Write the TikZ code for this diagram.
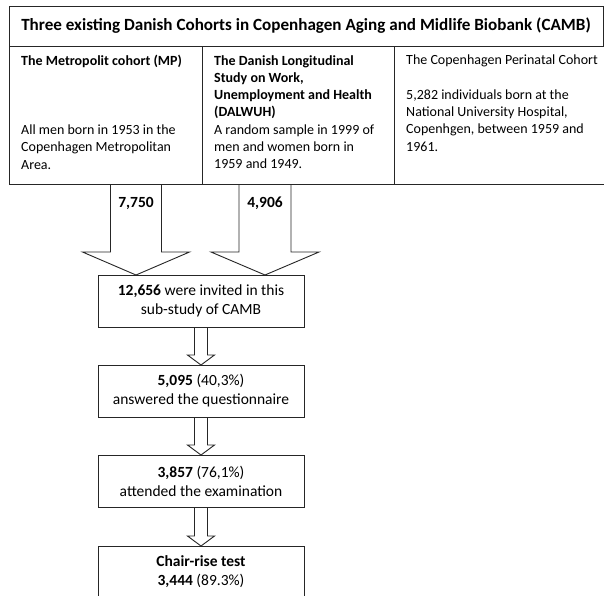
\documentclass[tikz,border=0pt]{standalone}
\usepackage{fontspec}
\setmainfont{Carlito}
\usetikzlibrary{positioning,calc}

\newcommand\titlefont{\fontsize{17.1}{20}\selectfont\bfseries}
\newcommand\cohortfont{\fontsize{14}{17.25}\selectfont}
\newcommand\flowfont{\fontsize{15.5}{19}\selectfont}

% hollow block arrow: from, to, shaft half width, head half width, head length
\newcommand\blockarrow[5]{%
  \draw[hollow] ($(#1)+(-#3,0)$) -- ($(#2)+(-#3,-#5)$) -- ($(#2)+(-#4,-#5)$)
    -- (#2) -- ($(#2)+(#4,-#5)$) -- ($(#2)+(#3,-#5)$) -- ($(#1)+(#3,0)$);}

\begin{document}
\begin{tikzpicture}[
  x=1pt, y=-1pt,
  cell/.style = {
    draw=black!85,
    line width=0.9pt,
    shape=rectangle,
    inner sep=0pt,
    outer sep=0pt,
    minimum height=138
  },
  celltext/.style = {
    inner sep=0pt,
    align=left,
    font=\cohortfont
  },
  flowbox/.style = {
    draw=black!85,
    line width=0.9pt,
    shape=rectangle,
    outer sep=0pt,
    minimum width=206,
    minimum height=52,
    align=center,
    font=\flowfont
  },
  count/.style = {
    inner sep=0pt,
    font=\flowfont\bfseries
  },
  hollow/.style = {
    draw=black!85,
    line width=0.9pt,
    line join=miter
  },
]
  \useasboundingbox[fill=white] (0,0) rectangle (604,595);

  % cohort table
  \node (title)[
    cell,
    minimum width=594,
    minimum height=40,
    anchor=north west,
    font=\titlefont
  ] at (9,6) {Three existing Danish Cohorts in Copenhagen Aging and Midlife Biobank (CAMB)};
  \node (mp)[
    cell,
    minimum width=193,
    anchor=north west
  ] at (title.south west) {};
  \node (dalwuh)[
    cell,
    minimum width=192,
    anchor=north west
  ] at (mp.north east) {};
  \node (perinatal)[
    cell,
    minimum width=220,
    anchor=north west
  ] at (dalwuh.north east) {};

  \node (mp text)[
    celltext,
    below right=9pt and 12pt of mp.north west
  ] {\textbf{The Metropolit cohort (MP)}\\[3\baselineskip]
     All men born in 1953 in the\\
     Copenhagen Metropolitan\\
     Area.};
  \node (dalwuh text)[
    celltext,
    below right=9pt and 12pt of dalwuh.north west
  ] {\textbf{The Danish Longitudinal}\\
     \textbf{Study on Work,}\\
     \textbf{Unemployment and Health}\\
     \textbf{(DALWUH)}\\
     A random sample in 1999 of\\
     men and women born in\\
     1959 and 1949.};
  \node (perinatal text)[
    celltext,
    below right=9pt and 12pt of perinatal.north west
  ] {The Copenhagen Perinatal Cohort\\[\baselineskip]
     5,282 individuals born at the\\
     National University Hospital,\\
     Copenhgen, between 1959 and\\
     1961.};

  % flow of participants
  \node (invited)[flowbox] at (201,301)
    {\textbf{12,656} were invited in this\\sub-study of CAMB};
  \node (answered)[
    flowbox,
    below=38pt of invited
  ] {\textbf{5,095} (40,3\%)\\answered the questionnaire};
  \node (attended)[
    flowbox,
    below=38pt of answered
  ] {\textbf{3,857} (76,1\%)\\attended the examination};
  \node (chairrise)[
    flowbox,
    below=39pt of attended
  ] {\textbf{Chair-rise test}\\\textbf{3,444} (89.3\%)};

  \coordinate (mp in) at ($(invited.north)+(-65,0)$);
  \coordinate (mp out) at (mp in |- mp.south);
  \coordinate (dalwuh in) at ($(invited.north)+(64,0)$);
  \coordinate (dalwuh out) at (dalwuh in |- mp.south);

  \blockarrow{mp out}{mp in}{25.5}{53.5}{23}
  \blockarrow{dalwuh out}{dalwuh in}{26}{54}{23}
  \blockarrow{invited.south}{answered.north}{6.5}{13.5}{10}
  \blockarrow{answered.south}{attended.north}{6.5}{13.5}{10}
  \blockarrow{attended.south}{chairrise.north}{6.5}{13.5}{10}

  \node (mp count)[count, below=13pt of mp out] {7,750};
  \node (dalwuh count)[count, below=13pt of dalwuh out] {4,906};
\end{tikzpicture}
\end{document}
